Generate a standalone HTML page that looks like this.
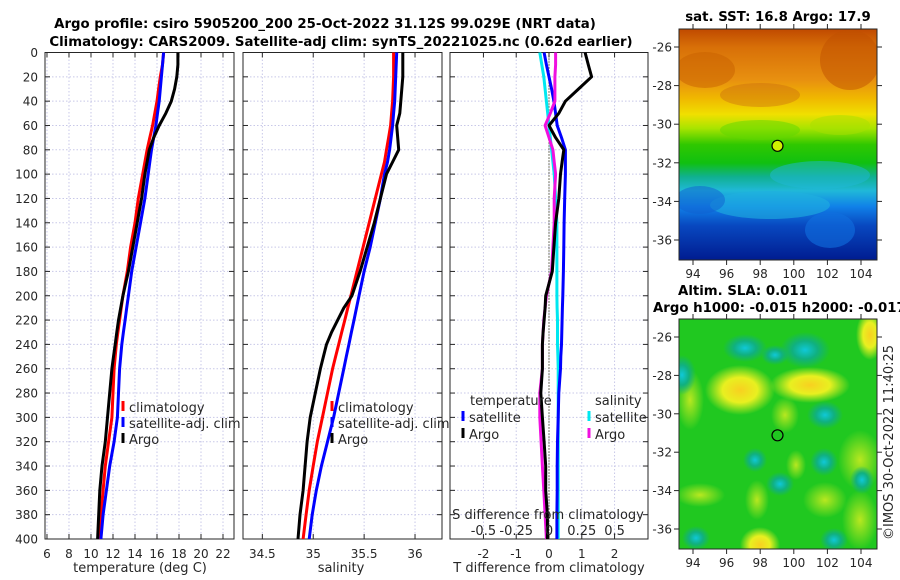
<!DOCTYPE html>
<html><head><meta charset="utf-8">
<style>
html,body{margin:0;padding:0;background:#fff;}
svg{display:block;font-family:"DejaVu Sans","Liberation Sans",sans-serif;}
.tk{font-size:12px;fill:#262626;}
.tt{font-size:13.3px;font-weight:bold;fill:#000;}
.lb{font-size:13px;fill:#262626;}
</style></head>
<body>
<svg id="fig" width="900" height="580" viewBox="0 0 900 580">
<defs>
<linearGradient id="sstg" x1="0" y1="0" x2="0" y2="1">
<stop offset="0" stop-color="#c04a00"/>
<stop offset="0.08" stop-color="#d87008"/>
<stop offset="0.22" stop-color="#e89010"/>
<stop offset="0.3" stop-color="#f0b800"/>
<stop offset="0.37" stop-color="#f0e000"/>
<stop offset="0.43" stop-color="#a8e400"/>
<stop offset="0.5" stop-color="#30c800"/>
<stop offset="0.58" stop-color="#10c010"/>
<stop offset="0.64" stop-color="#10b090"/>
<stop offset="0.7" stop-color="#20b8d8"/>
<stop offset="0.77" stop-color="#1080e8"/>
<stop offset="0.85" stop-color="#0848c0"/>
<stop offset="1" stop-color="#001c90"/>
</linearGradient>
<radialGradient id="ylw"><stop offset="0" stop-color="#f8d020"/><stop offset="0.5" stop-color="#e8f020"/><stop offset="1" stop-color="#e8f020" stop-opacity="0"/></radialGradient>
<radialGradient id="tea"><stop offset="0" stop-color="#10c8d8"/><stop offset="0.5" stop-color="#10b080"/><stop offset="1" stop-color="#10b080" stop-opacity="0"/></radialGradient>
<radialGradient id="lim"><stop offset="0" stop-color="#b8e820"/><stop offset="1" stop-color="#b8e820" stop-opacity="0"/></radialGradient>
<clipPath id="c1"><rect x="679" y="29" width="198" height="231"/></clipPath>
<clipPath id="c2"><rect x="679" y="319" width="198" height="230"/></clipPath>
</defs>
<g id="root"></g>
</svg>
<script>
// ---- data ----
const depths = [0,10,20,30,40,50,60,70,80,90,100,120,140,160,180,200,210,220,230,240,250,260,280,300,320,340,360,380,400];
const tempClim = [16.6,16.5,16.3,16.15,16.0,15.8,15.6,15.35,15.1,14.9,14.7,14.3,14.0,13.6,13.3,12.9,12.75,12.6,12.45,12.3,12.2,12.1,12.0,11.9,11.6,11.3,11.1,10.9,10.7];
const tempSat  = [16.6,16.5,16.4,16.3,16.2,16.05,15.9,15.7,15.5,15.35,15.2,14.9,14.5,14.1,13.7,13.4,13.25,13.1,12.95,12.8,12.7,12.6,12.5,12.4,12.1,11.7,11.4,11.1,10.9];
const tempArgo = [17.9,17.9,17.8,17.6,17.3,16.8,16.2,15.7,15.3,15.1,14.9,14.6,14.2,13.8,13.4,12.9,12.7,12.5,12.35,12.2,12.05,11.9,11.7,11.5,11.3,11.0,10.8,10.7,10.6];
const salClim = [35.79,35.79,35.79,35.785,35.78,35.77,35.76,35.74,35.72,35.7,35.67,35.61,35.55,35.49,35.43,35.37,35.34,35.31,35.28,35.25,35.22,35.19,35.14,35.09,35.04,35.0,34.96,34.93,34.9];
const salSat  = [35.82,35.815,35.81,35.805,35.8,35.79,35.78,35.765,35.75,35.73,35.7,35.66,35.61,35.56,35.5,35.45,35.425,35.4,35.375,35.35,35.325,35.3,35.25,35.2,35.14,35.08,35.03,34.99,34.96];
const salArgo = [35.88,35.88,35.88,35.87,35.86,35.85,35.82,35.83,35.84,35.78,35.72,35.66,35.6,35.53,35.46,35.38,35.3,35.24,35.18,35.13,35.1,35.07,35.02,34.97,34.94,34.92,34.9,34.87,34.85];
const tDiffSat  = [-0.15,-0.08,0.0,0.08,0.15,0.2,0.25,0.38,0.5,0.5,0.5,0.48,0.46,0.45,0.44,0.42,0.41,0.4,0.39,0.38,0.36,0.35,0.3,0.28,0.26,0.25,0.25,0.24,0.24];
const tDiffArgo = [1.1,1.2,1.3,0.9,0.5,0.3,0.0,0.2,0.45,0.4,0.35,0.3,0.2,0.15,0.1,-0.1,-0.12,-0.15,-0.18,-0.2,-0.2,-0.2,-0.25,-0.2,-0.15,-0.1,-0.1,-0.05,-0.05];
const sDiffSat  = [-0.07,-0.055,-0.04,-0.03,-0.02,-0.01,0.0,0.01,0.02,0.03,0.04,0.05,0.06,0.06,0.06,0.06,0.062,0.065,0.065,0.065,0.068,0.07,0.07,0.07,0.07,0.07,0.07,0.07,0.07];
const sDiffArgo = [0.05,0.05,0.045,0.045,0.045,0.01,-0.03,0.0,0.03,0.04,0.05,0.04,0.04,0.03,0.02,-0.02,-0.03,-0.04,-0.045,-0.05,-0.05,-0.05,-0.07,-0.07,-0.06,-0.05,-0.04,-0.03,-0.02];
const depthTicks = [0,20,40,60,80,100,120,140,160,180,200,220,240,260,280,300,320,340,360,380,400];
const tempTicks = [6,8,10,12,14,16,18,20,22];
const salTicks = [34.5,35,35.5,36];
const salTickLabels = ["34.5","35","35.5","36"];
const tdTicks = [-2,-1,0,1,2];
const sdTicks = [-0.5,-0.25,0,0.25,0.5];
const sdTickLabels = ["-0.5","-0.25","0","0.25","0.5"];
const latTicks = [-26,-28,-30,-32,-34,-36];
const lonTicks = [94,96,98,100,102,104];
const argoLon = 99.03, argoLat = -31.12;

const NS='http://www.w3.org/2000/svg';
const root=document.getElementById('root');
function el(tag,attrs,parent,text){const e=document.createElementNS(NS,tag);for(const k in attrs)e.setAttribute(k,attrs[k]);if(text!==undefined)e.textContent=text;(parent||root).appendChild(e);return e;}
const Y0=52.5,Y1=539;
const yD=d=>Y0+(d-0)/(400-0)*(Y1-Y0);
function lin(d0,d1,r0,r1){return v=>r0+(v-d0)/(d1-d0)*(r1-r0);}

function panel(name,x0,x1,dom,ticks,labels){
  const g=el('g',{});
  
  
  const sx=lin(dom[0],dom[1],x0,x1);
  ticks.forEach((t,i)=>{
    const l=el('line',{x1:sx(t),x2:sx(t),y1:Y0,y2:Y1,stroke:'#c8c8e8','stroke-dasharray':'1.5,2','stroke-width':1},g);
    
    
    el('line',{x1:sx(t),x2:sx(t),y1:Y1,y2:Y1-5,stroke:'#262626'},g);
    el('line',{x1:sx(t),x2:sx(t),y1:Y0,y2:Y0+5,stroke:'#262626'},g);
    if(labels){const tx=el('text',{x:sx(t),y:Y1+19,'text-anchor':'middle',class:'tk'},g,labels[i]);
      
      }
  });
  depthTicks.forEach(d=>{
    el('line',{x1:x0,x2:x1,y1:yD(d),y2:yD(d),stroke:'#c8c8e8','stroke-dasharray':'1.5,2'},g);
    el('line',{x1:x0,x2:x0+5,y1:yD(d),y2:yD(d),stroke:'#262626'},g);
    el('line',{x1:x1,x2:x1-5,y1:yD(d),y2:yD(d),stroke:'#262626'},g);
  });
  const r=el('rect',{x:x0,y:Y0,width:x1-x0,height:Y1-Y0,fill:'none',stroke:'#262626','stroke-width':1},g);
  
  
  return {g,sx};
}
function line(p,vals,color,name,w,scale){
  const pts=vals.map((v,i)=>p.sx(v*(scale||1)).toFixed(1)+','+yD(depths[i]).toFixed(1)).join(' ');
  const l=el('polyline',{points:pts,fill:'none',stroke:color,'stroke-width':w||3,'stroke-linejoin':'round'},p.g);
  
  
}
function legend(p,x,y,color,label){
  const b=el('line',{x1:x,x2:x,y1:y-11,y2:y-1,stroke:color,'stroke-width':3},p.g);
  
  
  const t=el('text',{x:x+6,y:y,class:'lb'},p.g,label);
  
  
}

// titles
let t=el('text',{x:325,y:28,'text-anchor':'middle',class:'tt'},root,'Argo profile: csiro 5905200_200 25-Oct-2022 31.12S 99.029E (NRT data)');


t=el('text',{x:341,y:46,'text-anchor':'middle',class:'tt'},root,'Climatology: CARS2009. Satellite-adj clim: synTS_20221025.nc (0.62d earlier)');



// depth labels
depthTicks.forEach(d=>{const tx=el('text',{x:38,y:yD(d)+4.5,'text-anchor':'end',class:'tk'},root,String(d));
  
  });

// panel 1 temperature
const p1=panel('temperature-panel',45,234,[5.82,23],tempTicks,tempTicks.map(String));
line(p1,tempClim,'#ff0000','clim-temperature-line');
line(p1,tempSat,'#0000ff','satellite-temperature-line');
line(p1,tempArgo,'#000000','argo-temperature-line');
legend(p1,123,412,'#ff0000','climatology');
legend(p1,123,428,'#0000ff','satellite-adj. clim');
legend(p1,123,444,'#000000','Argo');
t=el('text',{x:140,y:572,'text-anchor':'middle',class:'lb'},root,'temperature (deg C)');



// panel 2 salinity
const p2=panel('salinity-panel',243,442,[34.31,36.265],salTicks,salTickLabels);
line(p2,salClim,'#ff0000','clim-salinity-line');
line(p2,salSat,'#0000ff','satellite-salinity-line');
line(p2,salArgo,'#000000','argo-salinity-line');
legend(p2,332,412,'#ff0000','climatology');
legend(p2,332,428,'#0000ff','satellite-adj. clim');
legend(p2,332,444,'#000000','Argo');
t=el('text',{x:341,y:572,'text-anchor':'middle',class:'lb'},root,'salinity');



// panel 3 differences
const p3=panel('difference-panel',450,648,[-3.02,3.02],tdTicks,tdTicks.map(String));
el('line',{x1:p3.sx(0),x2:p3.sx(0),y1:Y0,y2:Y1,stroke:'#404020','stroke-dasharray':'1,2','stroke-width':1.3},p3.g);
line(p3,sDiffSat,'#00e8f0','satellite-salinity-diff-line',3,4);
line(p3,tDiffSat,'#0000ff','satellite-temperature-diff-line');
line(p3,sDiffArgo,'#f010e0','argo-salinity-diff-line',3,4);
line(p3,tDiffArgo,'#000000','argo-temperature-diff-line');
t=el('text',{x:470,y:405,class:'lb'},p3.g,'temperature');


t=el('text',{x:595,y:405,class:'lb'},p3.g,'salinity');


legend(p3,463,422,'#0000ff','satellite');
legend(p3,463,439,'#000000','Argo');
legend(p3,589,422,'#00e8f0','satellite');
legend(p3,589,439,'#f010e0','Argo');
t=el('text',{x:548,y:519,'text-anchor':'middle',class:'lb'},p3.g,'S difference from climatology');


sdTicks.forEach((s,i)=>{const tx=el('text',{x:p3.sx(s*4),y:535,'text-anchor':'middle',class:'lb'},p3.g,sdTickLabels[i]);
  
  });
t=el('text',{x:549,y:572,'text-anchor':'middle',class:'lb'},root,'T difference from climatology');



// maps
function mapAxes(name,y0,y1,lat0y,latdy){
  const g=el('g',{});
  
  
  const lx=lon=>693+(lon-94)*16.8;
  const ly=lat=>lat0y+(-26-lat)*latdy;
  return {g,lx,ly,y0,y1};
}
function mapFrame(m){
  el('rect',{x:679,y:m.y0,width:198,height:m.y1-m.y0,fill:'none',stroke:'#262626'},m.g);
  latTicks.forEach(l=>{
    el('line',{x1:679,x2:674,y1:m.ly(l),y2:m.ly(l),stroke:'#262626'},m.g);
    el('line',{x1:877,x2:882,y1:m.ly(l),y2:m.ly(l),stroke:'#262626'},m.g);
    const tx=el('text',{x:672,y:m.ly(l)+4.5,'text-anchor':'end',class:'tk'},m.g,String(l));
    
    
  });
  lonTicks.forEach(l=>{
    el('line',{x1:m.lx(l),x2:m.lx(l),y1:m.y1,y2:m.y1+5,stroke:'#262626'},m.g);
    el('line',{x1:m.lx(l),x2:m.lx(l),y1:m.y0,y2:m.y0-5,stroke:'#262626'},m.g);
    const tx=el('text',{x:m.lx(l),y:m.y1+18,'text-anchor':'middle',class:'tk'},m.g,String(l));
    
    
  });
}
// SST map
const m1=mapAxes('sst-map',29,260,47,19.3);
const c1=el('g',{'clip-path':'url(#c1)'},m1.g);
el('rect',{x:679,y:29,width:198,height:231,fill:'url(#sstg)'},c1);
[[705,70,30,18,'#c86000',0.5],[760,95,40,12,'#c86810',0.4],[850,60,30,30,'#c05000',0.5],[820,175,50,14,'#20b8d8',0.5],[770,205,60,14,'#20b0e0',0.6],[700,200,25,14,'#1060d0',0.5],[830,230,25,18,'#1070e0',0.6],[760,130,40,10,'#60d800',0.5],[840,125,30,10,'#a8e000',0.5]].forEach(b=>{
  el('ellipse',{cx:b[0],cy:b[1],rx:b[2],ry:b[3],fill:b[4],opacity:b[5]},c1);});
mapFrame(m1);
let mk=el('circle',{cx:m1.lx(argoLon),cy:m1.ly(argoLat),r:5.5,fill:'#d0f000',stroke:'#000','stroke-width':1.2},m1.g);


t=el('text',{x:778,y:21,'text-anchor':'middle',class:'tt'},root,'sat. SST: 16.8 Argo: 17.9');



// SLA map
const m2=mapAxes('sla-map',319,549,337,19.2);
const c2=el('g',{'clip-path':'url(#c2)'},m2.g);
el('rect',{x:679,y:319,width:198,height:230,fill:'#20c820'},c2);
[[740,390,35,25,'ylw'],[690,400,14,30,'lim'],[810,385,40,18,'ylw'],[870,335,14,25,'ylw'],[785,415,14,18,'lim'],[757,500,12,20,'lim'],[825,500,22,18,'lim'],[700,495,25,12,'lim'],[760,545,20,18,'ylw'],[860,460,22,30,'lim'],[860,520,18,30,'lim'],[796,465,10,15,'lim'],
 [805,350,25,18,'tea'],[745,348,22,14,'tea'],[682,375,14,20,'tea'],[825,415,18,14,'tea'],[824,462,14,14,'tea'],[755,460,12,12,'tea'],[780,484,14,12,'tea'],[862,480,12,14,'tea'],[696,538,14,12,'tea'],[834,540,14,12,'tea'],[775,355,14,10,'tea']].forEach(b=>{
  el('ellipse',{cx:b[0],cy:b[1],rx:b[2],ry:b[3],fill:'url(#'+b[4]+')'},c2);});
mapFrame(m2);
mk=el('circle',{cx:m2.lx(argoLon),cy:m2.ly(argoLat),r:5.5,fill:'none',stroke:'#000','stroke-width':1.2},m2.g);


t=el('text',{x:743,y:295,'text-anchor':'middle',class:'tt'},root,'Altim. SLA: 0.011');


t=el('text',{x:653,y:312,class:'tt'},root,'Argo h1000: -0.015 h2000: -0.017');


t=el('text',{x:893,y:540,transform:'rotate(-90 893 540)',class:'lb'},root,'©IMOS 30-Oct-2022 11:40:25');


</script>
</body></html>
